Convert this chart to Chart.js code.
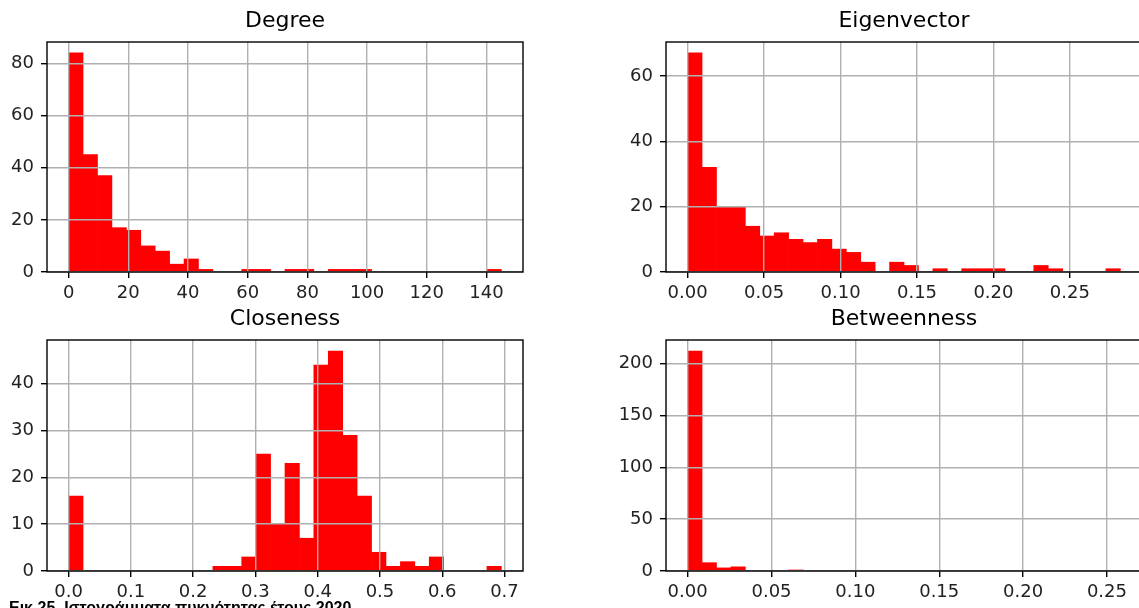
<!DOCTYPE html>
<html>
<head>
<meta charset="utf-8">
<script src="https://cdn.jsdelivr.net/npm/chart.js@4.4.1/dist/chart.umd.min.js"></script>
<style>
  html, body { margin: 0; padding: 0; background: #fff; width: 1139px; height: 608px; overflow: hidden; position: relative; }
  canvas { position: absolute; }
  #caption { position: absolute; left: 9px; top: 599px; font: bold 16px "Liberation Sans", Arial, sans-serif; line-height: 18px; color: #000; white-space: nowrap; }
</style>
</head>
<body>
<canvas id="degreeChart" width="556" height="312" style="left:-13px;top:0px"></canvas>
<canvas id="eigenChart" width="556" height="312" style="left:606px;top:0px"></canvas>
<canvas id="closenessChart" width="556" height="313" style="left:-13px;top:298px"></canvas>
<canvas id="betweenChart" width="556" height="313" style="left:606px;top:298px"></canvas>
<div id="caption">Εικ.25. Ιστογράμματα πυκνότητας έτους 2020</div>
<script>
// 30-bin histograms, counts
const degreeCounts = [84, 45, 37, 17, 16, 10, 8, 3, 5, 1, 0, 0, 1, 1, 0, 1, 1, 0, 1, 1, 1, 0, 0, 0, 0, 0, 0, 0, 0, 1];
const degreeRange = [0, 145];
const degreeXTicks = [0, 20, 40, 60, 80, 100, 120, 140];
const degreeYTicks = [0, 20, 40, 60, 80];

const eigenCounts = [67, 32, 20, 20, 14, 11, 12, 10, 9, 10, 7, 6, 3, 0, 3, 2, 0, 1, 0, 1, 1, 1, 0, 0, 2, 1, 0, 0, 0, 1];
const eigenRange = [0, 0.283];
const eigenXTicks = [0, 0.05, 0.10, 0.15, 0.20, 0.25];
const eigenYTicks = [0, 20, 40, 60];

const closenessCounts = [16, 0, 0, 0, 0, 0, 0, 0, 0, 0, 1, 1, 3, 25, 10, 23, 7, 44, 47, 29, 16, 4, 1, 2, 1, 3, 0, 0, 0, 1];
const closenessRange = [0, 0.695];
const closenessXTicks = [0, 0.1, 0.2, 0.3, 0.4, 0.5, 0.6, 0.7];
const closenessYTicks = [0, 10, 20, 30, 40];

const betweenCounts = [212, 8, 3, 4, 0, 0, 0, 1, 0, 0, 0, 0, 0, 0, 0, 0, 0, 0, 0, 0, 0, 0, 0, 0, 0, 0, 0, 0, 0, 0];
const betweenRange = [0, 0.258];
const betweenXTicks = [0, 0.05, 0.10, 0.15, 0.20, 0.25];
const betweenYTicks = [0, 50, 100, 150, 200];

function binPoints(counts, range) {
    const step = (range[1] - range[0]) / counts.length;
    return counts.map((c, i) => ({ x: range[0] + (i + 0.5) * step, y: c }));
}

// matplotlib-style box around the axes
const spinePlugin = {
    id: 'spines',
    afterDraw(chart) {
        const a = chart.chartArea;
        const ctx = chart.ctx;
        ctx.save();
        ctx.strokeStyle = '#000';
        ctx.lineWidth = 1.4;
        ctx.strokeRect(a.left, a.top, a.right - a.left, a.bottom - a.top);
        ctx.restore();
    }
};

const tickFont = { family: 'DejaVu Sans', size: 18 };
const gridOpts = { offset: false, z: 1, color: '#b0b0b0', lineWidth: 1.4, tickColor: '#000', tickLength: 6, tickWidth: 1.4 };

function drawHist(id, title, counts, range, xTicks, yTicks, digits) {
    const span = range[1] - range[0];
    const ctx = document.getElementById(id).getContext('2d');
    return new Chart(ctx, {
        type: 'bar',
        data: {
            datasets: [{
                data: binPoints(counts, range),
                backgroundColor: '#ff0000',
                borderWidth: 0,
                barPercentage: 1,
                categoryPercentage: 1
            }]
        },
        options: {
            responsive: false,
            animation: false,
            devicePixelRatio: 1,
            layout: { padding: { left: 0, right: 20, top: 0, bottom: 0 } },
            plugins: {
                legend: { display: false },
                tooltip: { enabled: false },
                title: {
                    display: true,
                    text: title,
                    fullSize: false,
                    color: '#000',
                    font: { family: 'DejaVu Sans', size: 22, weight: 'normal' },
                    padding: { top: 8.5, bottom: 7.1 }
                }
            },
            scales: {
                x: {
                    type: 'linear',
                    offset: false,
                    min: range[0] - 0.05 * span,
                    max: range[1] + 0.05 * span,
                    afterFit: s => { s.height = 40; },
                    afterBuildTicks: s => { s.ticks = xTicks.map(v => ({ value: v })); },
                    grid: gridOpts,
                    border: { display: false },
                    ticks: {
                        padding: 5, maxRotation: 0, autoSkip: false, color: '#222', font: tickFont,
                        callback: v => v.toFixed(digits)
                    }
                },
                y: {
                    min: 0,
                    max: Math.max(...counts) * 1.05,
                    afterFit: s => { s.width = 60; },
                    afterBuildTicks: s => { s.ticks = yTicks.map(v => ({ value: v })); },
                    grid: gridOpts,
                    border: { display: false },
                    ticks: {
                        padding: 7, color: '#222', font: tickFont,
                        callback: v => String(v)
                    }
                }
            }
        },
        plugins: [spinePlugin]
    });
}

drawHist('degreeChart', 'Degree', degreeCounts, degreeRange, degreeXTicks, degreeYTicks, 0);
drawHist('eigenChart', 'Eigenvector', eigenCounts, eigenRange, eigenXTicks, eigenYTicks, 2);
drawHist('closenessChart', 'Closeness', closenessCounts, closenessRange, closenessXTicks, closenessYTicks, 1);
drawHist('betweenChart', 'Betweenness', betweenCounts, betweenRange, betweenXTicks, betweenYTicks, 2);
</script>
</body>
</html>
